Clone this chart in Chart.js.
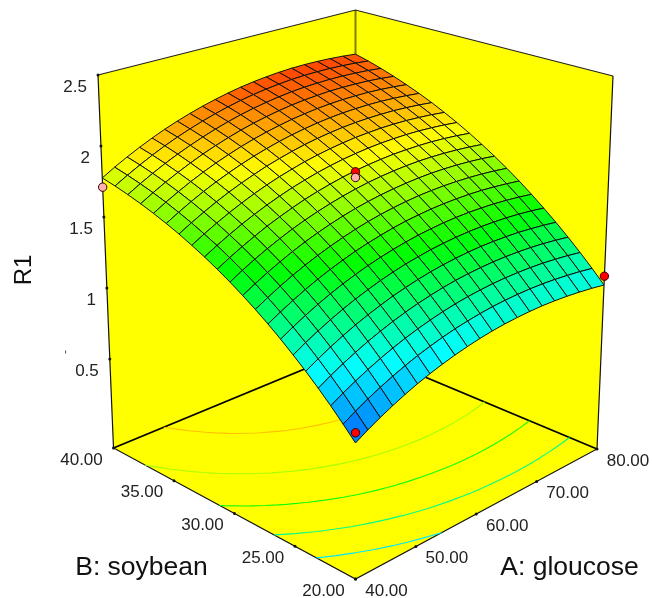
<!DOCTYPE html>
<html><head><meta charset="utf-8">
<style>html,body{margin:0;padding:0;background:#fff}canvas{display:block}</style>
<script src="https://cdn.jsdelivr.net/npm/chart.js@4"></script>
</head><body><canvas id="c" width="652" height="598"></canvas>
<script>
// Axis ticks
const aTicks=[40,50,60,70,80];
const bTicks=[20,25,30,35,40];
const zTicks=[0.5,1,1.5,2,2.5];
const zFloor=-0.127, zTop=2.5;
const axisA="A: gloucose", axisB="B: soybean", axisZ="R1";
const contourLevels=[0.98,1.22,1.47,1.71,1.96];
// Surface heights: rows B=20..40 (step 1), columns A=40..80 (step 2)
const r1Rows=[
[.726,.772,.814,.853,.889,.922,.951,.977,1.000,1.020,1.037,1.051,1.061,1.068,1.072,1.073,1.070,1.064,1.055,1.043,1.028],
[.808,.854,.897,.936,.972,1.005,1.035,1.061,1.084,1.105,1.121,1.135,1.146,1.153,1.157,1.158,1.156,1.150,1.141,1.130,1.115],
[.888,.934,.976,1.016,1.052,1.085,1.115,1.142,1.165,1.186,1.203,1.217,1.227,1.235,1.239,1.240,1.238,1.233,1.224,1.213,1.198],
[.964,1.010,1.053,1.092,1.129,1.162,1.192,1.219,1.243,1.263,1.281,1.295,1.306,1.313,1.318,1.319,1.317,1.312,1.304,1.292,1.278],
[1.037,1.083,1.126,1.166,1.203,1.236,1.266,1.294,1.317,1.338,1.356,1.370,1.381,1.389,1.394,1.395,1.393,1.389,1.380,1.369,1.355],
[1.106,1.153,1.196,1.236,1.273,1.307,1.337,1.365,1.389,1.410,1.427,1.442,1.453,1.461,1.466,1.468,1.466,1.462,1.454,1.443,1.428],
[1.173,1.220,1.263,1.304,1.341,1.375,1.405,1.433,1.457,1.478,1.496,1.511,1.522,1.531,1.536,1.538,1.536,1.532,1.524,1.513,1.499],
[1.237,1.283,1.327,1.368,1.405,1.439,1.470,1.498,1.522,1.543,1.562,1.577,1.588,1.597,1.602,1.604,1.603,1.599,1.591,1.580,1.567],
[1.297,1.344,1.388,1.429,1.466,1.500,1.531,1.559,1.584,1.606,1.624,1.639,1.651,1.660,1.665,1.667,1.666,1.662,1.655,1.645,1.631],
[1.354,1.401,1.445,1.486,1.524,1.559,1.590,1.618,1.643,1.665,1.683,1.698,1.710,1.719,1.725,1.728,1.727,1.723,1.716,1.706,1.692],
[1.408,1.456,1.500,1.541,1.579,1.614,1.645,1.673,1.698,1.720,1.739,1.755,1.767,1.776,1.782,1.785,1.784,1.780,1.773,1.763,1.750],
[1.459,1.507,1.551,1.592,1.631,1.665,1.697,1.726,1.751,1.773,1.792,1.808,1.820,1.829,1.836,1.838,1.838,1.835,1.828,1.818,1.805],
[1.507,1.555,1.599,1.641,1.679,1.714,1.746,1.775,1.800,1.823,1.842,1.858,1.870,1.880,1.886,1.889,1.889,1.886,1.879,1.870,1.857],
[1.551,1.599,1.644,1.686,1.724,1.760,1.792,1.821,1.846,1.869,1.888,1.904,1.917,1.927,1.933,1.937,1.937,1.934,1.927,1.918,1.905],
[1.593,1.641,1.686,1.728,1.767,1.802,1.834,1.864,1.889,1.912,1.932,1.948,1.961,1.971,1.978,1.981,1.981,1.979,1.972,1.963,1.951],
[1.631,1.679,1.725,1.767,1.806,1.841,1.874,1.903,1.929,1.952,1.972,1.988,2.002,2.012,2.019,2.022,2.023,2.020,2.014,2.005,1.993],
[1.666,1.715,1.760,1.803,1.842,1.878,1.910,1.940,1.966,1.989,2.009,2.026,2.039,2.050,2.057,2.061,2.061,2.059,2.053,2.044,2.032],
[1.698,1.747,1.793,1.835,1.874,1.911,1.943,1.973,2.000,2.023,2.043,2.060,2.074,2.084,2.091,2.096,2.096,2.094,2.089,2.080,2.068],
[1.727,1.776,1.822,1.865,1.904,1.940,1.973,2.003,2.030,2.054,2.074,2.091,2.105,2.116,2.123,2.127,2.128,2.126,2.121,2.113,2.101],
[1.753,1.802,1.848,1.891,1.931,1.967,2.000,2.030,2.057,2.081,2.102,2.119,2.133,2.144,2.152,2.156,2.157,2.155,2.150,2.142,2.131],
[1.775,1.825,1.871,1.914,1.954,1.991,2.024,2.054,2.081,2.105,2.126,2.144,2.158,2.169,2.177,2.182,2.183,2.181,2.176,2.168,2.157]
];
// Design points: A, B, R1
const redPoints=[[40,20,0.79],[80,20,1.09],[60,30,1.86]];
const pinkPoints=[[40,40,1.71],[60,30,1.82]];

// Box corners on the page (front, right, left, back) at floor and top
const floorBox={F:[355.5,579],R:[597,449],L:[113.5,448],B:[355.5,348]};
const topBox={F:[355.5,160],R:[613,76],L:[98,75],B:[355.5,10]};
function bil(box,u,v,k){return (1-u)*(1-v)*box.F[k]+u*(1-v)*box.R[k]+(1-u)*v*box.L[k]+u*v*box.B[k];}
function proj(a,b,z){
  const u=(a-40)/40,v=(b-20)/20,w=(z-zFloor)/(zTop-zFloor);
  return {x:bil(floorBox,u,v,0)*(1-w)+bil(topBox,u,v,0)*w,
          y:bil(floorBox,u,v,1)*(1-w)+bil(topBox,u,v,1)*w};
}
const stops=[[.73,[0,100,255]],[1.03,[0,255,255]],[1.45,[0,255,0]],[1.85,[255,255,0]],[2.3,[255,0,0]]];
function colorFor(z){
  if(z<=stops[0][0])return `rgb(${stops[0][1].join(',')})`;
  for(let i=1;i<stops.length;i++){ if(z<=stops[i][0]){
    const t=(z-stops[i-1][0])/(stops[i][0]-stops[i-1][0]);
    const c=stops[i-1][1].map((s,k)=>Math.round(s+(stops[i][1][k]-s)*t));
    return `rgb(${c.join(',')})`;}}
  return 'rgb(255,0,0)';
}
const painted=[]; // in painting order, back to front
function poly(pts,fill,stroke,width){
  painted.push({data:pts,showLine:true,fill:fill?'shape':false,backgroundColor:fill||'transparent',
    borderColor:stroke||'transparent',borderWidth:width||0,pointRadius:0,tension:0});
}
const Y='#ffff00';
// walls and floor
poly([proj(40,40,zFloor),proj(80,40,zFloor),proj(80,40,zTop),proj(40,40,zTop),proj(40,40,zFloor)],Y);
poly([proj(80,20,zFloor),proj(80,40,zFloor),proj(80,40,zTop),proj(80,20,zTop),proj(80,20,zFloor)],Y);
poly([proj(40,20,zFloor),proj(80,20,zFloor),proj(80,40,zFloor),proj(40,40,zFloor),proj(40,20,zFloor)],Y);
// box edges
poly([proj(80,40,zFloor),proj(80,40,zTop)],null,'#808000',2);
poly([proj(40,40,zTop),proj(80,40,zTop),proj(80,20,zTop)],null,'#222',1.2);
poly([proj(40,40,zTop),proj(40,40,zFloor),proj(40,20,zFloor),proj(80,20,zFloor),proj(80,20,zTop)],null,'#111',1.2);
poly([proj(40,40,zFloor),proj(80,40,zFloor),proj(80,20,zFloor)],null,'#000',1.8);
// floor contours from the table
const nA=r1Rows[0].length,nB=r1Rows.length;
const gA=i=>40+40*i/(nA-1), gB=j=>20+20*j/(nB-1);
contourLevels.forEach(lv=>{
  const seg=[];
  for(let j=0;j<nB-1;j++)for(let i=0;i<nA-1;i++){
    const c=[[i,j],[i+1,j],[i+1,j+1],[i,j+1]];
    const hits=[];
    for(let k=0;k<4;k++){
      const p=c[k],q=c[(k+1)%4],zp=r1Rows[p[1]][p[0]],zq=r1Rows[q[1]][q[0]];
      if((zp<lv)!==(zq<lv)){
        const t=(lv-zp)/(zq-zp);
        hits.push(proj(gA(p[0]+(q[0]-p[0])*t),gB(p[1]+(q[1]-p[1])*t),zFloor));
      }
    }
    if(hits.length>=2)seg.push(hits[0],hits[1],{x:NaN,y:NaN});
  }
  poly(seg,null,colorFor(lv),1.1);
});
// surface cells, farthest first
for(let s=nA+nB-4;s>=0;s--){
  for(let j=0;j<nB-1;j++){
    const i=s-j; if(i<0||i>=nA-1)continue;
    const zs=[r1Rows[j][i],r1Rows[j][i+1],r1Rows[j+1][i+1],r1Rows[j+1][i]];
    const m=(zs[0]+zs[1]+zs[2]+zs[3])/4;
    const pts=[proj(gA(i),gB(j),zs[0]),proj(gA(i+1),gB(j),zs[1]),proj(gA(i+1),gB(j+1),zs[2]),proj(gA(i),gB(j+1),zs[3])];
    pts.push(pts[0]);
    poly(pts,colorFor(m),'#111',1);
  }
}
// tick marks
const tickDots=[...zTicks.map(z=>proj(40,40,z)),...aTicks.map(a=>proj(a,20,zFloor)),...bTicks.map(b=>proj(40,b,zFloor))];
painted.push({data:tickDots,showLine:false,pointRadius:1.5,pointBackgroundColor:'#111',pointBorderWidth:0});
// design points
painted.push({data:redPoints.map(p=>proj(p[0],p[1],p[2])),showLine:false,pointRadius:4.2,pointBackgroundColor:'#ff0000',pointBorderColor:'#300',pointBorderWidth:1});
painted.push({data:pinkPoints.map(p=>proj(p[0],p[1],p[2])),showLine:false,pointRadius:4.2,pointBackgroundColor:'#ffb0b0',pointBorderColor:'#300',pointBorderWidth:1});

const labelPlugin={id:'labels',afterDraw(chart){
  const {ctx,scales:{x,y}}=chart;
  const put=(t,p,dx,dy,align,size)=>{
    ctx.font=size+'px "Liberation Sans"';ctx.textAlign=align;ctx.textBaseline='middle';ctx.fillStyle='#222';
    ctx.fillText(t,x.getPixelForValue(p.x)+dx,y.getPixelForValue(p.y)+dy);
  };
  ctx.save();
  zTicks.forEach(z=>put(String(z),proj(40,40,z),-11,12.5,'right',17));
  aTicks.forEach((a,i)=>put(a.toFixed(2),proj(a,20,zFloor),31,12,'center',17));
  bTicks.forEach((b,i)=>put(b.toFixed(2),proj(40,b,zFloor),-32,12,'center',17));
  ctx.fillStyle='#111';ctx.font='26.5px "Liberation Sans"';ctx.textBaseline='middle';ctx.textAlign='center';
  ctx.fillText(axisB,141.5,568);
  ctx.fillText(axisA,569.5,568);
  ctx.save();ctx.translate(24,270);ctx.rotate(-Math.PI/2);ctx.font='24px "Liberation Sans"';ctx.fillText(axisZ,0,0);ctx.restore();
  ctx.save();ctx.translate(66,352);ctx.rotate(-Math.PI/2);ctx.font='12px "Liberation Sans"';ctx.fillStyle='#555';ctx.fillText('-',0,0);ctx.restore();
  ctx.restore();
}};
new Chart(document.getElementById('c'),{
  type:'scatter',
  data:{datasets:painted.reverse()},
  options:{responsive:false,animation:false,events:[],layout:{padding:0,autoPadding:false},
    plugins:{legend:{display:false},tooltip:{enabled:false},title:{display:false}},
    scales:{x:{type:'linear',min:0,max:652,display:false},y:{type:'linear',min:0,max:598,reverse:true,display:false}}},
  plugins:[labelPlugin]
});
</script></body></html>
